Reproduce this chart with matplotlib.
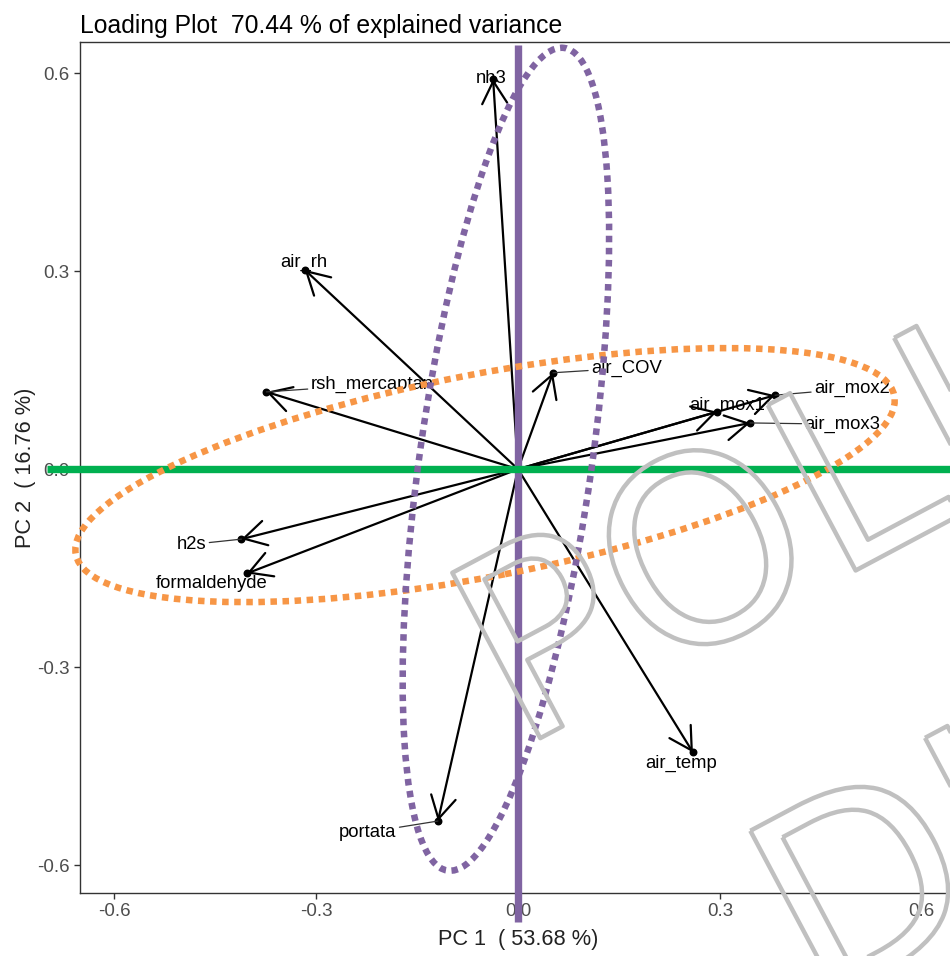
import numpy as np
import matplotlib
matplotlib.use('Agg')
import matplotlib.pyplot as plt
import matplotlib.patches as mpatches
import matplotlib.patheffects as pe

plt.rcParams['font.family'] = ['Liberation Sans', 'DejaVu Sans']
plt.rcParams['axes.unicode_minus'] = False

# loadings
variables = ['nh3', 'air_rh', 'rsh_mercaptan', 'air_COV', 'air_mox2', 'air_mox1',
             'air_mox3', 'h2s', 'formaldehyde', 'air_temp', 'portata']
pc1 = [-0.037, -0.317, -0.374, 0.052, 0.382, 0.296, 0.345, -0.411, -0.403, 0.260, -0.119]
pc2 = [0.591, 0.302, 0.117, 0.146, 0.112, 0.087, 0.070, -0.106, -0.158, -0.429, -0.533]

# repelled label positions (centre of text) and whether a leader segment is drawn
lab_x = [-0.040, -0.318, -0.217, 0.161, 0.496, 0.311, 0.482, -0.485, -0.455, 0.243, -0.223]
lab_y = [0.591, 0.313, 0.128, 0.153, 0.122, 0.097, 0.068, -0.114, -0.173, -0.445, -0.550]
leader = [False, False, True, True, True, False, True, True, False, False, True]

ticks = [-0.6, -0.3, 0.0, 0.3, 0.6]
tick_labels = ['-0.6', '-0.3', '0.0', '0.3', '0.6']

# hand drawn groups: centre x, centre y, full width, full height, angle
groups = {
    'orange': (-0.049, -0.009, 1.240, 0.306, 11.2),
    'purple': (-0.018, 0.015, 1.258, 0.256, 82.1),
}
group_colors = {'orange': '#F79646', 'purple': '#8064A2'}

fig = plt.figure(figsize=(9.5, 9.56), dpi=100)
ax = fig.add_axes([80 / 950, 63 / 956, 876 / 950, 851 / 956])
ax.set_xlim(-0.651, 0.651)
ax.set_ylim(-0.642, 0.647)

for sp in ax.spines.values():
    sp.set_color('#333333')
    sp.set_linewidth(1.0)

ax.set_xticks(ticks)
ax.set_xticklabels(tick_labels)
ax.set_yticks(ticks)
ax.set_yticklabels(tick_labels)
ax.tick_params(direction='out', length=4.5, width=1, color='#333333',
               labelsize=13.5, labelcolor='#4D4D4D', pad=3)

ax.set_title('Loading Plot  70.44 % of explained variance', loc='left',
             fontsize=17.8, pad=6.5)
ax.set_xlabel('PC 1  ( 53.68 %)', fontsize=15.7, color='#222222', labelpad=6)
ax.set_ylabel('PC 2  ( 16.76 %)', fontsize=15.7, color='#222222', labelpad=0.5)

# loading arrows
for x, y in zip(pc1, pc2):
    ax.annotate('', xy=(x, y), xytext=(0, 0),
                arrowprops=dict(arrowstyle='->,head_length=0.8,head_width=0.45',
                                mutation_scale=20, lw=1.6, color='black',
                                shrinkA=0, shrinkB=0), zorder=3)
ax.scatter(pc1, pc2, s=22, color='black', zorder=4)

for name, x, y, lx, ly, seg in zip(variables, pc1, pc2, lab_x, lab_y, leader):
    props = None
    if seg:
        props = dict(arrowstyle='-', lw=0.9, color='#333333', shrinkA=0, shrinkB=0)
    ax.annotate(name, xy=(x, y), xytext=(lx, ly), ha='center', va='center',
                fontsize=13.3, color='black', arrowprops=props, zorder=5)

# overlay reference lines
ax.plot([0, 0], [0.642, -0.686], color='#8064A2', lw=5.3, solid_capstyle='butt',
        clip_on=False, zorder=6)
ax.plot([-0.700, 0.70], [0, 0], color='#00B050', lw=5.3, solid_capstyle='butt',
        clip_on=False, zorder=7)

for key, (cx, cy, w, h, ang) in groups.items():
    ax.add_patch(mpatches.Ellipse((cx, cy), w, h, angle=ang, fill=False,
                                  edgecolor=group_colors[key], lw=4.7,
                                  linestyle=(0, (1, 0.85)), zorder=8, clip_on=False))

# watermark
wm = dict(rotation=28, rotation_mode='anchor', ha='left', va='baseline',
          fontsize=185, family='DejaVu Sans', color='none', zorder=20,
          path_effects=[pe.Stroke(linewidth=3.2, foreground='#c0c0c0',
                                  joinstyle='round')])
fig.text(518 / 950, 1 - 750 / 956, 'POLI', **wm)
fig.text(816 / 950, 1 - 1008 / 956, 'DI', **wm)

fig.savefig('out.png', dpi=100)
